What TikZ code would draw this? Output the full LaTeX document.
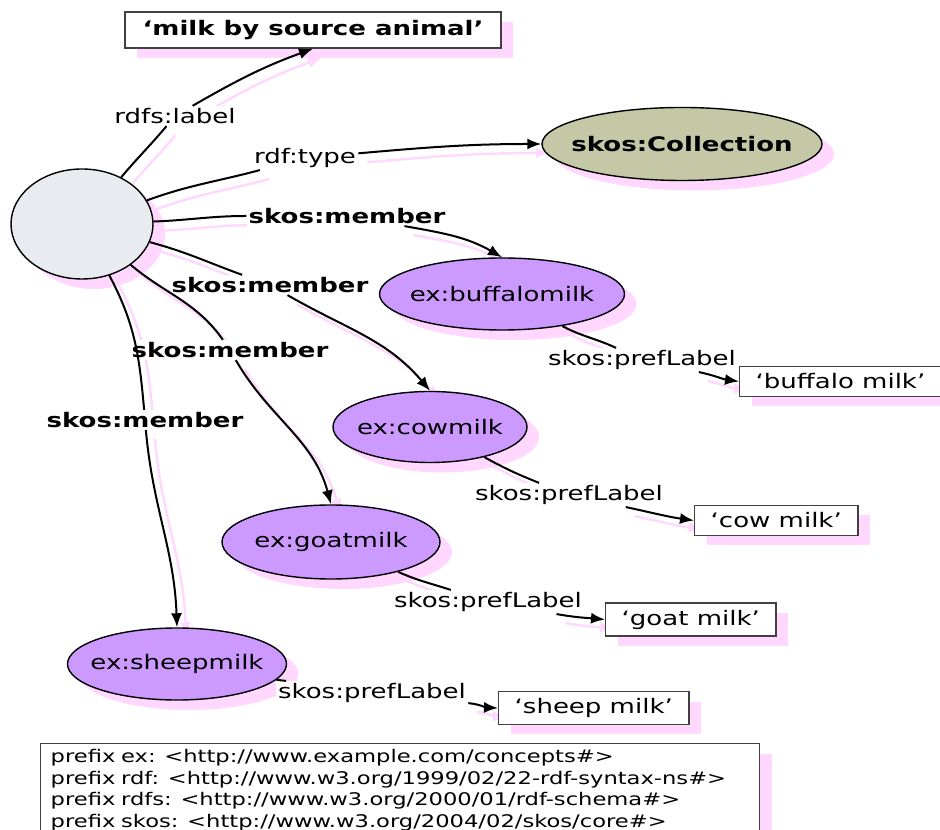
\documentclass[tikz,border=0pt]{standalone}
\usepackage{fontspec}
\setmainfont{DejaVu Sans}[FakeStretch=1.3]
\usepackage{tikz}
\usetikzlibrary{arrows.meta,shapes.geometric,shadows}
\definecolor{blankgray}{RGB}{232,235,240}
\definecolor{collolive}{RGB}{196,200,166}
\definecolor{conceptlilac}{RGB}{204,153,255}
\definecolor{shadowpink}{RGB}{255,215,255}
\definecolor{linepink}{RGB}{255,215,255}
\pgfdeclarelayer{under}
\pgfsetlayers{under,main}
% one relation: pink copy below, black line on top
\newcommand{\relarc}[2][]{%
  \begin{pgfonlayer}{under}\draw[relshadow,#1] #2;\end{pgfonlayer}%
  \draw[rel,#1] #2;}
\newcommand{\nodetext}[1]{\makebox[0pt]{#1}}

\begin{document}
\begin{tikzpicture}[x=0.5pt,y=0.5pt,
    every node/.style={font=\fontsize{10pt}{12pt}\selectfont},
    bold/.style={font=\fontsize{10pt}{12pt}\selectfont\bfseries},
    pinkshadow/.style={drop shadow={shadow xshift=6pt,shadow yshift=-5pt,
        fill=shadowpink,opacity=1}},
    res/.style={ellipse,draw,line width=0.7pt,inner sep=0pt,pinkshadow},
    lit/.style={rectangle,draw=black!75,line width=0.7pt,fill=white,
        minimum height=15pt,inner xsep=8pt,pinkshadow},
    elabel/.style={fill=white,inner sep=1pt},
    rel/.style={line width=1pt},
    relshadow/.style={draw=linepink,line width=1.2pt,
        transform canvas={shift={(4.5pt,-4.5pt)}}},
    tip/.style={-{Latex[length=7pt,width=5.5pt]}}]
  \useasboundingbox (0,0) rectangle (940,829);

  % resources
  \node[lit,bold,minimum width=188pt,minimum height=18pt] (title) at (313,799)
        {‘milk by source animal’};
  \node[res,fill=blankgray,minimum width=71pt,minimum height=55pt] (blank) at (82,605) {};
  \node[res,fill=collolive,bold,minimum width=140pt,minimum height=36.5pt] (coll)
        at (682,685) {\nodetext{skos:Collection}};
  \node[res,fill=conceptlilac,minimum width=122.5pt,minimum height=36pt] (buffalo)
        at (502,535) {\nodetext{ex:buffalomilk}};
  \node[res,fill=conceptlilac,minimum width=97pt,minimum height=35.5pt] (cow)
        at (430,402) {\nodetext{ex:cowmilk}};
  \node[res,fill=conceptlilac,minimum width=109pt,minimum height=37pt] (goat)
        at (331,287) {\nodetext{ex:goatmilk}};
  \node[res,fill=conceptlilac,minimum width=109.5pt,minimum height=36pt] (sheep)
        at (177,165) {\nodetext{ex:sheepmilk}};

  % literals
  \node[lit,anchor=west] (litbuffalo) at (739,447.5) {‘buffalo milk’};
  \node[lit,anchor=west] (litcow) at (694,308.5) {‘cow milk’};
  \node[lit,anchor=west] (litgoat) at (605,209.5) {‘goat milk’};
  \node[lit,anchor=west] (litsheep) at (498,121) {‘sheep milk’};

  % prefixes
  \node[draw=black!75,line width=0.7pt,fill=white,pinkshadow,anchor=north west,
        align=left,inner xsep=5pt,inner ysep=3pt,text width=349.5pt,
        font=\fontsize{8.7pt}{10.75pt}\selectfont] (prefixes) at (40,86)
        {prefix ex: <http://www.example.com/concepts\#>\\
         prefix rdf: <http://www.w3.org/1999/02/22-rdf-syntax-ns\#>\\
         prefix rdfs: <http://www.w3.org/2000/01/rdf-schema\#>\\
         prefix skos: <http://www.w3.org/2004/02/skos/core\#>};

  % property labels
  \node[elabel] (rdfslab) at (175,713) {rdfs:label};
  \node[elabel] (typelab) at (305,671) {rdf:type};
  \node[elabel,bold] (mem1) at (347,613) {skos:member};
  \node[elabel,bold] (mem2) at (270,544) {skos:member};
  \node[elabel,bold] (mem3) at (230,479) {skos:member};
  \node[elabel,bold] (mem4) at (145,409) {skos:member};
  \node[elabel] (pl1) at (642,469) {skos:prefLabel};
  \node[elabel] (pl2) at (569,334) {skos:prefLabel};
  \node[elabel] (pl3) at (488,227) {skos:prefLabel};
  \node[elabel] (pl4) at (372,136) {skos:prefLabel};

  % relations
  \relarc{(blank) to[out=50,in=230] (rdfslab)}
  \relarc[tip]{(rdfslab) to[out=30,in=200] (title.south)}
  \relarc{(blank) to[out=20,in=195] (typelab)}
  \relarc[tip]{(typelab) to[out=5,in=180] (coll)}
  \relarc{(blank) to[out=2,in=180] (mem1)}
  \relarc[tip]{(mem1) to[out=-10,in=150] (buffalo.north)}
  \relarc{(blank) to[out=-15,in=160] (mem2)}
  \relarc[tip]{(mem2) to[out=-30,in=130] (cow.north)}
  \relarc{(blank) to[out=-40,in=125] (mem3)}
  \relarc[tip]{(mem3) to[out=-60,in=105] (goat.north)}
  \relarc{(blank) to[out=-62,in=95] (mem4)}
  \relarc[tip]{(mem4) to[out=-85,in=92] (sheep.north)}
  \relarc{(buffalo) to[out=-28,in=155] (pl1)}
  \relarc[tip]{(pl1) to[out=-12,in=172] (litbuffalo.west)}
  \relarc{(cow) to[out=-29,in=158] (pl2)}
  \relarc[tip]{(pl2) to[out=-12,in=172] (litcow.west)}
  \relarc{(goat) to[out=-24,in=162] (pl3)}
  \relarc[tip]{(pl3) to[out=-10,in=175] (litgoat.west)}
  \relarc{(sheep) to[out=-9,in=172] (pl4)}
  \relarc[tip]{(pl4) to[out=-6,in=178] (litsheep.west)}
\end{tikzpicture}
\end{document}
